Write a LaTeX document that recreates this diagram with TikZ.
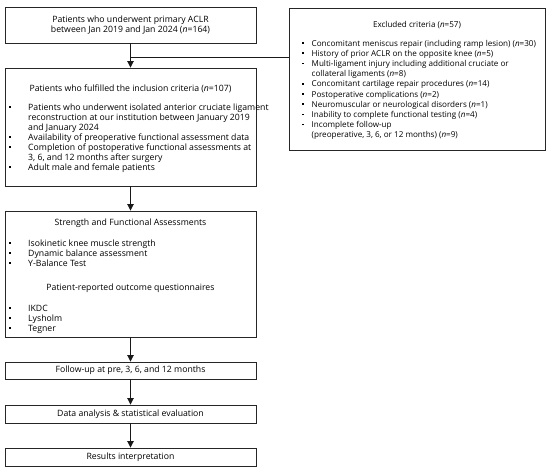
\documentclass[tikz,border=0pt]{standalone}
\usepackage{fontspec}
\usepackage{graphicx}
\setmainfont{Open Sans}
\usetikzlibrary{arrows.meta}
\newcommand\nnum{\textit{n}}
\newcommand\fs{\fontsize{8.7}{10}\selectfont}
\newcommand\fse{\fontsize{8.1}{10.2}\selectfont}
\newcommand\bu{\rule[2.2pt]{1.6pt}{1.6pt}}
\tikzset{
  box/.style={draw=black!85, line width=0.9pt, rectangle, inner sep=0pt},
  txt/.style={font=\fs, inner sep=0pt, align=center},
  lst/.style={font=\fs, inner sep=0pt, anchor=base west},
  arr/.style={draw=black!90, line width=0.9pt, -{Triangle[width=6.5pt,length=6.5pt]}},
  ln/.style={draw=black!90, line width=0.9pt}
}
\begin{document}
\begin{tikzpicture}[x=1pt,y=-1pt]
\useasboundingbox (0,0) rectangle (550,472);
% boxes
\node[box, minimum width=251pt, minimum height=36pt] (b1) at (130.5,25) {};
\node[box, minimum width=251pt, minimum height=118pt] (b2) at (130.5,127) {};
\node[box, minimum width=251pt, minimum height=126pt] (b3) at (130.5,274) {};
\node[box, minimum width=251pt, minimum height=17pt] (b4) at (130.5,370.5) {};
\node[box, minimum width=251pt, minimum height=18pt] (b5) at (130.5,414) {};
\node[box, minimum width=251pt, minimum height=18pt] (b6) at (130.5,457) {};
\node[box, minimum width=256pt, minimum height=142pt] (ex) at (417,79) {};
% texts
\node[txt] (t1) at (b1.center) {Patients who underwent primary ACLR\\between Jan 2019 and Jan 2024 (\nnum=164)};
\node[txt] (t2) at (130.5,89) {Patients who fulfilled the inclusion criteria (\nnum=107)};
\node[lst] (l2) at (9,110) {\begin{tabular}[t]{@{}p{19pt}@{}l@{}}
\bu & Patients who underwent isolated anterior cruciate ligament\\
 & reconstruction at our institution between January 2019\\
 & and January 2024\\
\bu & Availability of preoperative functional assessment data\\
\bu & Completion of postoperative functional assessments at\\
 & 3, 6, and 12 months after surgery\\
\bu & Adult male and female patients
\end{tabular}};
\node[txt] (t3) at (130.5,223) {Strength and Functional Assessments};
\node[lst] (l3) at (9,246) {\begin{tabular}[t]{@{}p{19pt}@{}l@{}}
\bu & Isokinetic knee muscle strength\\
\bu & Dynamic balance assessment\\
\bu & Y-Balance Test
\end{tabular}};
\node[txt] (t3b) at (130.5,288) {Patient-reported outcome questionnaires};
\node[lst] (l3b) at (9,311) {\begin{tabular}[t]{@{}p{19pt}@{}l@{}}
\bu & IKDC\\
\bu & Lysholm\\
\bu & Tegner
\end{tabular}};
\node[txt] (t4) at (b4.center) {Follow-up at pre, 3, 6, and 12 months};
\node[txt] (t5) at (b5.center) {Data analysis \& statistical evaluation};
\node[txt] (t6) at (b6.center) {Results interpretation};
\node[txt, font=\fse] (te) at (417,25) {Excluded criteria (\nnum=57)};
\node[lst, font=\fse] (le) at (302,46) {\begin{tabular}[t]{@{}p{9.5pt}@{}l@{}}
\bu & Concomitant meniscus repair (including ramp lesion) (\nnum=30)\\
\bu & History of prior ACLR on the opposite knee (\nnum=5)\\
\bu & Multi-ligament injury including additional cruciate or\\
 & collateral ligaments (\nnum=8)\\
\bu & Concomitant cartilage repair procedures (\nnum=14)\\
\bu & Postoperative complications (\nnum=2)\\
\bu & Neuromuscular or neurological disorders (\nnum=1)\\
\bu & Inability to complete functional testing (\nnum=4)\\
\bu & Incomplete follow-up\\
 & (preoperative, 3, 6, or 12 months) (\nnum=9)
\end{tabular}};
% connectors
\coordinate (j) at (b1.south |- 0,57);
\draw[arr] (b1.south) -- (b2.north);
\draw[ln] (j) -- (j -| ex.west);
\draw[arr] (b2.south) -- (b3.north);
\draw[arr] (b3.south) -- (b4.north);
\draw[arr] (b4.south) -- (b5.north);
\draw[arr] (b5.south) -- (b6.north);
\end{tikzpicture}
\end{document}
